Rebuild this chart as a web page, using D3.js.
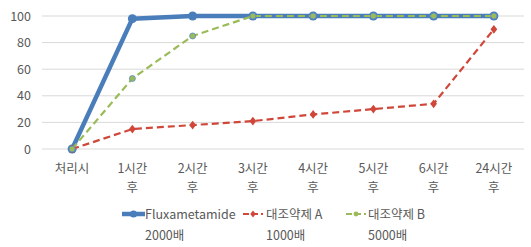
<!DOCTYPE html>
<html>
<head>
<meta charset="utf-8">
<script src="https://cdn.jsdelivr.net/npm/d3@7"></script>
<style>
  body { margin: 0; background: #fff; }
  text { font-family: "Noto Sans CJK KR", "Noto Sans", sans-serif; fill: #595959; font-size: 12.5px; }
</style>
</head>
<body>
<svg width="531" height="247"></svg>
<script>
// categories (x axis, two-line labels)
var categories = ['처리시', '1시간 후', '2시간 후', '3시간 후', '4시간 후', '5시간 후', '6시간 후', '24시간 후']
var yTicks = [0, 20, 40, 60, 80, 100]

// series values
var fluxa = [0, 98, 100, 100, 100, 100, 100, 100]
var ctrlA = [0, 15, 18, 21, 26, 30, 34, 90]
var ctrlB = [0, 53, 85, 100, 100, 100, 100, 100]

var seriesNames = [['Fluxametamide', '2000배'], ['대조약제 A', '1000배'], ['대조약제 B', '5000배']]

var series = [
  { name: seriesNames[0], values: fluxa, color: '#4a7ebb', width: 4.5, dash: null, marker: 'circle', r: 4.5 },
  { name: seriesNames[1], values: ctrlA, color: '#d0473a', width: 2.2, dash: '7,4', marker: 'diamond', r: 2.8 },
  { name: seriesNames[2], values: ctrlB, color: '#9bbb59', width: 2.2, dash: '7,4', marker: 'circle', r: 3 }
]

var svg = d3.select('svg')
var x = d3.scalePoint().domain(categories).range([42, 524]).padding(0.5)
var y = d3.scaleLinear().domain([0, 100]).range([149, 16])

// gridlines
svg.append('g').selectAll('line')
  .data(yTicks)
  .enter().append('line')
  .attr('x1', 42).attr('x2', 524)
  .attr('y1', d => y(d)).attr('y2', d => y(d))
  .style('stroke', '#d9d9d9').style('stroke-width', 1)

// y labels
svg.append('g').selectAll('text')
  .data(yTicks)
  .enter().append('text')
  .attr('x', 31).attr('y', d => y(d) + 4.5)
  .attr('text-anchor', 'end')
  .text(d => d)

// x labels
var xl = svg.append('g').selectAll('text')
  .data(categories)
  .enter().append('text')
  .attr('text-anchor', 'middle')
xl.each(function(d) {
  var parts = d.split(' ')
  var t = d3.select(this)
  parts.forEach(function(p, i) {
    t.append('tspan').attr('x', x(d)).attr('y', 172.5 + i * 19).text(p)
  })
})

var line = d3.line().x((d, i) => x(categories[i])).y(d => y(d))

function drawMarker(g, s, cx, cy) {
  if (s.marker === 'diamond') {
    g.append('path')
      .attr('d', d3.symbol().type(d3.symbolDiamond).size(s.r * s.r * 3.5)())
      .attr('transform', 'translate(' + cx + ',' + cy + ') scale(1.2,0.9)')
      .style('fill', s.color)
  } else {
    g.append('circle').attr('cx', cx).attr('cy', cy).attr('r', s.r)
      .style('fill', s.color)
      .style('stroke', s === series[2] ? '#5b8cc8' : 'none')
      .style('stroke-width', 0.8)
  }
}

series.forEach(function(s) {
  var g = svg.append('g')
  g.append('path')
    .datum(s.values)
    .attr('d', line)
    .style('fill', 'none')
    .style('stroke', s.color)
    .style('stroke-width', s.width)
    .style('stroke-dasharray', s.dash)
    .style('stroke-linejoin', 'round')
  s.values.forEach(function(v, i) {
    drawMarker(g, s, x(categories[i]), y(v))
  })
})

// legend
var legendX = [122, 243, 346]
var legendW = [23, 20, 20]
var textX = [145, 266, 368]
series.forEach(function(s, i) {
  var g = svg.append('g').attr('transform', 'translate(0,214)')
  g.append('line').attr('x1', legendX[i]).attr('x2', legendX[i] + legendW[i]).attr('y1', 0).attr('y2', 0)
    .style('stroke', s.color).style('stroke-width', s.width)
    .style('stroke-dasharray', s.dash ? '6,3' : null)
  drawMarker(g, Object.assign({}, s, { r: s.r * 0.8 }), legendX[i] + legendW[i] / 2, 0)
  g.append('text').attr('x', textX[i]).attr('y', 4.5).text(s.name[0])
  g.append('text').attr('x', textX[i]).attr('y', 26).text(s.name[1])
})
</script>
</body>
</html>
